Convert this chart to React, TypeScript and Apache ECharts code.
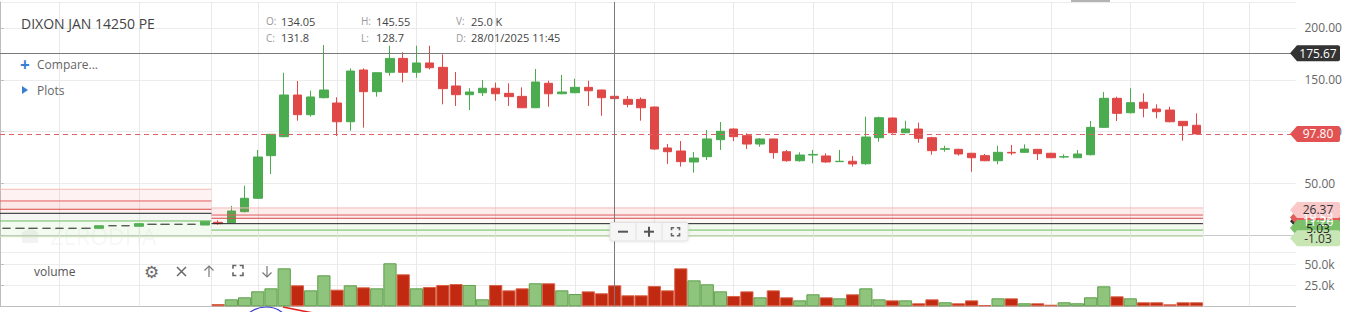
import React, { useEffect, useRef } from "react";
import * as echarts from "echarts";

// ---------------- data ----------------
const title = "DIXON JAN 14250 PE";
const prevDate = "27/01/2025";
const todayDate = "28/01/2025";
const nextDate = "29/01/2025";

// previous session (last 16 five-minute candles, 14:10 .. 15:25)
const prevOpen = [6.75, 6.75, 6.75, 6.75, 6.75, 6.75, 6.75, 6.75, 9.2, 9.2, 8.7, 10.6, 10.6, 10.6, 10.6, 9.9];
const prevHigh = [6.75, 6.75, 6.75, 6.75, 6.75, 6.75, 6.75, 9.2, 9.2, 9.2, 11.2, 10.6, 10.6, 10.6, 10.6, 13.5];
const prevLow = [6.75, 6.75, 6.75, 6.75, 6.75, 6.75, 6.75, 6.75, 9.2, 9.2, 8.7, 10.6, 10.6, 10.6, 10.6, 9.9];
const prevClose = [6.75, 6.75, 6.75, 6.75, 6.75, 6.75, 6.75, 9.2, 9.2, 9.2, 11.2, 10.6, 10.6, 10.6, 10.6, 13.5];

// current session (75 five-minute candles, 09:15 .. 15:25)
const todayOpen = [
  12.5, 12.2, 22.8, 35.7, 76.8, 95.1, 135.3, 116.3, 132.7, 127.6,
  109.5, 159.4, 138.5, 157.2, 170.6, 157.2, 166.2, 162.0, 144.0, 135.6,
  137.5, 141.8, 136.9, 134.0, 123.0, 146.6, 136.5, 137.5, 142.7, 140.1,
  134.05, 131.1, 131.1, 123.7, 84.2, 81.3, 70.7, 75.8, 92.2, 102.5,
  96.1, 88.0, 92.9, 80.6, 71.9, 77.4, 76.5, 71.0, 71.4, 69.0,
  94.1, 113.1, 98.9, 102.5, 94.1, 83.0, 82.9, 79.1, 76.8, 71.9,
  80.0, 80.0, 82.9, 79.1, 75.5, 74.8, 77.7, 104.1, 132.1, 118.2,
  128.3, 121.8, 120.8, 109.9, 106.1,
];
const todayHigh = [
  14.5, 28.3, 47.8, 82.3, 97.4, 156.8, 148.8, 139.4, 183.5, 133.1,
  161.0, 161.0, 157.0, 182.8, 176.5, 182.8, 182.8, 174.5, 157.5, 141.8,
  149.8, 147.2, 146.6, 142.7, 160.4, 149.1, 154.6, 151.0, 149.1, 140.5,
  145.55, 134.3, 133.0, 124.0, 88.0, 90.9, 80.3, 101.5, 109.3, 103.0,
  98.4, 93.8, 93.0, 82.3, 80.0, 82.3, 79.0, 82.3, 76.5, 114.4,
  114.4, 113.5, 110.5, 108.6, 95.0, 86.4, 83.5, 79.5, 78.4, 86.4,
  87.1, 87.7, 83.2, 79.5, 78.1, 82.3, 110.2, 138.2, 133.7, 141.8,
  136.9, 126.3, 124.0, 110.0, 117.6,
];
const todayLow = [
  10.2, 12.0, 22.0, 35.0, 59.1, 94.5, 110.5, 114.4, 132.0, 95.8,
  100.9, 103.8, 133.7, 153.9, 147.5, 152.0, 160.0, 126.3, 124.7, 120.8,
  134.3, 129.8, 124.7, 122.8, 122.8, 124.0, 136.0, 137.0, 124.7, 115.3,
  128.7, 123.4, 110.5, 82.5, 68.8, 66.2, 60.4, 72.6, 82.3, 90.9,
  83.2, 85.4, 73.9, 71.0, 71.0, 69.4, 70.0, 71.0, 66.2, 68.0,
  90.3, 98.0, 98.5, 89.3, 77.7, 80.6, 76.8, 61.3, 71.5, 68.5,
  77.4, 79.5, 72.6, 74.5, 74.3, 74.5, 77.0, 103.5, 110.2, 117.5,
  113.8, 112.8, 109.0, 91.2, 97.0,
];
const todayClose = [
  11.2, 23.4, 35.7, 75.5, 97.4, 135.3, 116.3, 133.4, 140.1, 109.5,
  158.4, 138.5, 156.8, 170.6, 157.2, 166.2, 161.6, 141.4, 135.6, 138.2,
  141.8, 136.5, 133.7, 123.0, 147.8, 136.5, 138.2, 142.7, 139.4, 132.7,
  131.8, 126.3, 123.0, 83.2, 80.6, 71.0, 74.5, 92.9, 100.3, 95.1,
  88.0, 92.9, 79.7, 71.9, 77.4, 78.0, 70.7, 71.4, 68.8, 94.8,
  113.4, 98.9, 102.5, 93.5, 81.6, 83.5, 78.4, 74.8, 71.9, 80.0,
  79.4, 83.2, 78.7, 74.8, 75.8, 78.4, 104.1, 132.1, 117.6, 127.9,
  122.5, 119.2, 109.5, 105.7, 97.8,
];
// volume in thousands
const todayVolume = [
  2.7, 8.3, 10.7, 17.8, 21.4, 45.2, 25.0, 19.0, 36.9, 19.8,
  25.0, 22.6, 21.4, 51.2, 38.1, 21.4, 23.0, 25.4, 26.5, 25.4,
  8.3, 25.4, 19.0, 21.4, 27.4, 27.4, 19.0, 14.6, 17.8, 15.5,
  25.0, 13.1, 13.1, 24.2, 19.0, 45.2, 30.9, 26.2, 17.8, 12.3,
  17.8, 10.7, 19.0, 10.7, 7.1, 14.3, 10.7, 9.5, 14.3, 21.4,
  8.3, 7.1, 7.1, 3.6, 8.3, 4.8, 3.6, 7.1, 1.5, 9.5,
  9.5, 3.6, 3.6, 1.9, 4.8, 3.6, 10.7, 23.8, 11.9, 9.5,
  4.8, 4.8, 2.4, 4.8, 4.8,
];

// level lines (previous and current session)
const prevLevels = [44.4, 33.1, 25.1, 21.2, 13.8, -1.4];
const todayLevels = [26.37, 19.52, 16.4, 11.2, 5.03, -1.03];
const levelColors = ["#f3b9b9", "#e25c5c", "#d84a4a", "#222222", "#6cbd5c", "#c6e3b3"];

const crossIndex = 30; // candle under crosshair (11:45)
const crossPrice = 175.67;
const nextSlots = 7;

// ---------------- helpers ----------------
const pad = (n: number) => (n < 10 ? "0" + n : "" + n);
function slots(date: string, h: number, m: number, n: number) {
  const out: string[] = [];
  for (let i = 0; i < n; i++) {
    const t = h * 60 + m + 5 * i;
    out.push(`${date} ${pad(Math.floor(t / 60))}:${pad(t % 60)}`);
  }
  return out;
}

const NPREV = prevOpen.length;
const NTODAY = todayOpen.length;
const categories = [
  ...slots(prevDate, 14, 10, NPREV),
  ...slots(todayDate, 9, 15, NTODAY),
  ...slots(nextDate, 9, 15, nextSlots),
];
const NCAT = categories.length;

const GREEN = "#4aab4f";
const RED = "#e04848";
const FONT = "Open Sans";

function buildOption() {
  const candleData = categories.map((_, g) => {
    if (g < NPREV) return [prevOpen[g], prevClose[g], prevLow[g], prevHigh[g]];
    const i = g - NPREV;
    if (i < NTODAY) return [todayOpen[i], todayClose[i], todayLow[i], todayHigh[i]];
    return "-";
  });
  const volData = categories.map((_, g) => {
    const i = g - NPREV;
    if (i < 0 || i >= NTODAY) return "-";
    const up = todayClose[i] >= todayOpen[i];
    return {
      value: todayVolume[i] * 1000,
      itemStyle: {
        color: up ? "#8ec47b" : "#c12a10",
        borderColor: up ? "#5f9f4c" : "#d9634a",
        borderWidth: 1,
      },
    };
  });

  // vertical grid: half hours (candle centres) and session boundaries
  const vGrid: number[] = [];
  categories.forEach((c, g) => {
    const [d, t] = c.split(" ");
    const mm = t.slice(3);
    if (g > 0 && categories[g - 1].split(" ")[0] !== d) vGrid.push(g);
    if (mm === "00" || mm === "30") vGrid.push(g + 0.5);
  });
  const vGridLines = {
    silent: true,
    symbol: ["none", "none"],
    z: 1,
    label: { show: false },
    lineStyle: { color: "#e9e9e9", width: 1, type: "solid" },
    data: vGrid.map((x) => ({ xAxis: x })),
  };

  const crossCat = categories[NPREV + crossIndex];
  const lastClose = todayClose[NTODAY - 1];

  const levelSeries: any[] = [];
  const addLevels = (vals: number[], x0: number, x1: number) => {
    vals.forEach((v, k) => {
      levelSeries.push({
        type: "line",
        xAxisIndex: 2,
        yAxisIndex: 0,
        data: [[x0, v], [x1, v]],
        symbol: "none",
        silent: true,
        z: 3,
        lineStyle: { color: levelColors[k], width: 1 },
      });
    });
  };
  addLevels(prevLevels, 0, NPREV);
  addLevels(todayLevels, NPREV, NPREV + NTODAY);

  const x0 = 0, x1 = NPREV, x2 = NPREV + NTODAY;
  levelSeries[0].markLine = vGridLines;
  levelSeries[0].markArea = {
    silent: true,
    z: 3,
    data: [
      [{ coord: [x0, prevLevels[0]], itemStyle: { color: "rgba(240,110,110,0.09)" } }, { coord: [x1, prevLevels[3]] }],
      [{ coord: [x0, prevLevels[1]], itemStyle: { color: "rgba(240,110,110,0.08)" } }, { coord: [x1, prevLevels[2]] }],
      [{ coord: [x0, prevLevels[3]], itemStyle: { color: "rgba(150,175,150,0.10)" } }, { coord: [x1, prevLevels[4]] }],
      [{ coord: [x0, prevLevels[4]], itemStyle: { color: "rgba(160,210,130,0.12)" } }, { coord: [x1, prevLevels[5]] }],
      [{ coord: [x1, todayLevels[0]], itemStyle: { color: "rgba(240,110,110,0.12)" } }, { coord: [x2, todayLevels[2]] }],
      [{ coord: [x1, todayLevels[2]], itemStyle: { color: "rgba(240,110,110,0.05)" } }, { coord: [x2, todayLevels[3]] }],
      [{ coord: [x1, todayLevels[3]], itemStyle: { color: "rgba(160,210,130,0.13)" } }, { coord: [x2, todayLevels[5]] }],
    ],
  };

  const tagPath = "path://M0,8L7,0L48,0Q50,0,50,2L50,14Q50,16,48,16L7,16Z";
  const tag = (v: number, dy: number, bg: string, fg: string) => ({
    coord: [NCAT, v],
    symbolOffset: [19.5, dy],
    itemStyle: { color: bg },
    label: { formatter: v.toFixed(2), color: fg },
  });

  const axisLabelStyle = { color: "#666", fontSize: 12, fontFamily: FONT, margin: 6 };

  const g = (o: any) => ({ z: 10, ...o });
  const txt = (x: number, y: number, text: string, fill: string, size: number, extra: any = {}) =>
    g({
      type: "text",
      x,
      y,
      style: { text, fill, fontSize: size, fontFamily: FONT, verticalAlign: "middle", align: "left", ...extra },
    });
  const corners = (cx: number, cy: number, s: number, color: string) => {
    const h = s / 2, k = s / 3;
    const pts = [
      [[cx - h, cy - h + k], [cx - h, cy - h], [cx - h + k, cy - h]],
      [[cx + h - k, cy - h], [cx + h, cy - h], [cx + h, cy - h + k]],
      [[cx + h, cy + h - k], [cx + h, cy + h], [cx + h - k, cy + h]],
      [[cx - h + k, cy + h], [cx - h, cy + h], [cx - h, cy + h - k]],
    ];
    return pts.map((p) => g({ type: "polyline", shape: { points: p }, style: { stroke: color, lineWidth: 1.6, fill: null } }));
  };

  const o = todayOpen[crossIndex], h = todayHigh[crossIndex], l = todayLow[crossIndex], c = todayClose[crossIndex];
  const v = todayVolume[crossIndex];
  const crossTime = crossCat.split(" ")[1];

  return {
    animation: false,
    textStyle: { fontFamily: FONT },
    grid: [
      { left: -1, width: 1296.5, top: 2, height: 250.7 },
      { left: -1, width: 1296.5, top: 252.7, height: 53.6 },
    ],
    xAxis: [
      {
        type: "category", gridIndex: 0, data: categories, boundaryGap: true,
        axisLine: { show: true, lineStyle: { color: "#c8c8c8" } },
        axisTick: { show: false }, axisLabel: { show: false }, splitLine: { show: false },
      },
      {
        type: "category", gridIndex: 1, data: categories, boundaryGap: true,
        axisLine: { show: true, lineStyle: { color: "#bdbdbd" } },
        axisTick: { show: false }, axisLabel: { show: false }, splitLine: { show: false },
      },
      { type: "value", gridIndex: 0, min: 0, max: NCAT, show: false },
      { type: "value", gridIndex: 1, min: 0, max: NCAT, show: false },
    ],
    yAxis: [
      {
        type: "value", gridIndex: 0, position: "right", min: -16.8, max: 225, offset: 3,
        axisLine: { show: true, lineStyle: { color: "#bdbdbd" } },
        axisTick: { show: true, length: 4, lineStyle: { color: "#bdbdbd" } },
        axisLabel: { ...axisLabelStyle, showMinLabel: false, showMaxLabel: false, formatter: (x: number) => x.toFixed(2) },
        splitLine: { show: true, lineStyle: { color: "#ececec" } },
      },
      {
        type: "value", gridIndex: 1, position: "right", min: 0, max: 63800, interval: 25000, offset: 3,
        axisLine: { show: true, lineStyle: { color: "#bdbdbd" } },
        axisTick: { show: true, length: 4, lineStyle: { color: "#bdbdbd" } },
        axisLabel: {
          ...axisLabelStyle, showMinLabel: false, showMaxLabel: false,
          formatter: (x: number) => (x / 1000).toFixed(1) + "k",
        },
        splitLine: { show: true, lineStyle: { color: "#ececec" } },
      },
    ],
    series: [
      {
        type: "candlestick",
        xAxisIndex: 0,
        yAxisIndex: 0,
        data: candleData,
        barWidth: 9,
        z: 2,
        itemStyle: {
          color: GREEN, color0: RED, borderColor: GREEN, borderColor0: RED,
          borderColorDoji: "#444", borderWidth: 1,
        },
        markLine: {
          silent: true,
          symbol: ["none", "none"],
          label: { show: false },
          data: [
            { yAxis: lastClose, lineStyle: { color: "#e06262", type: [5, 4], width: 1 } },
            { yAxis: crossPrice, lineStyle: { color: "#7a7a7a", type: "solid", width: 1 } },
            { xAxis: crossCat, lineStyle: { color: "#7a7a7a", type: "solid", width: 1 } },
          ],
        },
      },
      {
        type: "bar",
        xAxisIndex: 1,
        yAxisIndex: 1,
        data: volData,
        barCategoryGap: "0%",
        z: 2,
        markLine: {
          silent: true,
          symbol: ["none", "none"],
          label: { show: false },
          data: [{ xAxis: crossCat, lineStyle: { color: "#7a7a7a", type: "solid", width: 1 } }],
        },
      },
      ...levelSeries,
      {
        type: "line",
        xAxisIndex: 3,
        yAxisIndex: 1,
        data: [[0, 0], [NCAT, 0]],
        symbol: "none",
        silent: true,
        lineStyle: { opacity: 0 },
        markLine: vGridLines,
      },
      {
        type: "line",
        xAxisIndex: 2,
        yAxisIndex: 0,
        data: [[NCAT, lastClose]],
        symbol: "none",
        silent: true,
        clip: false,
        lineStyle: { opacity: 0 },
        markPoint: {
          silent: true,
          z: 8,
          symbol: tagPath,
          symbolSize: [50, 16],
          symbolKeepAspect: false,
          label: { show: true, position: "inside", offset: [3, 0], fontSize: 12, fontFamily: FONT },
          data: [
            tag(todayLevels[3], -2.5, "#333333", "#ffffff"),
            tag(todayLevels[1], 2.5, "#e35b5b", "#ffffff"),
            tag(todayLevels[4], -2, "#7cc06a", "#222222"),
            tag(todayLevels[0], 2, "#f9c9c9", "#333333"),
            tag(todayLevels[5], 2, "#c8e6b4", "#333333"),
            tag(lastClose, 0, "#e25252", "#ffffff"),
            tag(crossPrice, 0, "#333333", "#ffffff"),
          ],
        },
      },
    ],
    graphic: [
      // watermark
      { type: "polygon", z: 0, shape: { points: [[22, 243], [22, 232], [30, 228], [38, 232], [38, 243]] }, style: { fill: "rgba(0,0,0,0.05)" } },
      { type: "text", z: 0, x: 50, y: 236, style: { text: "ZERODHA", fill: "rgba(0,0,0,0.05)", fontSize: 23, fontFamily: FONT, verticalAlign: "middle" } },
      // top scroll indicator
      g({ type: "rect", shape: { x: 1071, y: 0, width: 39, height: 2 }, style: { fill: "#b4b4b4" } }),
      // title and menu
      txt(21, 23, title, "#444", 14),
      txt(20, 64, "+", "#387ed1", 17, { fontWeight: "bold" }),
      txt(37, 64, "Compare...", "#666", 12),
      g({ type: "polygon", shape: { points: [[22, 86], [28, 90], [22, 94]] }, style: { fill: "#387ed1" } }),
      txt(37, 90, "Plots", "#666", 12),
      // OHLC readout
      txt(266, 21, "O:", "#999", 10),
      txt(281, 21, o.toString(), "#444", 11),
      txt(266, 37.5, "C:", "#999", 10),
      txt(281, 37.5, c.toString(), "#444", 11),
      txt(361, 21, "H:", "#999", 10),
      txt(376, 21, h.toString(), "#444", 11),
      txt(361, 37.5, "L:", "#999", 10),
      txt(376, 37.5, l.toString(), "#444", 11),
      txt(456, 21, "V:", "#999", 10),
      txt(471, 21, v.toFixed(1) + " K", "#444", 11),
      txt(456, 37.5, "D:", "#999", 10),
      txt(471, 37.5, `${todayDate} ${crossTime}`, "#444", 11),
      // zoom control
      g({
        type: "rect",
        shape: { x: 610, y: 222.5, width: 78, height: 18.5, r: 2 },
        style: { fill: "#f6f6f6", stroke: "#e2e2e2", lineWidth: 1, shadowBlur: 3, shadowColor: "rgba(0,0,0,0.12)" },
      }),
      g({ type: "line", shape: { x1: 636, y1: 223, x2: 636, y2: 240.5 }, style: { stroke: "#e2e2e2" } }),
      g({ type: "line", shape: { x1: 662, y1: 223, x2: 662, y2: 240.5 }, style: { stroke: "#e2e2e2" } }),
      g({ type: "line", shape: { x1: 618, y1: 231.7, x2: 628, y2: 231.7 }, style: { stroke: "#555", lineWidth: 2 } }),
      g({ type: "line", shape: { x1: 644, y1: 231.7, x2: 654, y2: 231.7 }, style: { stroke: "#555", lineWidth: 2 } }),
      g({ type: "line", shape: { x1: 649, y1: 226.7, x2: 649, y2: 236.7 }, style: { stroke: "#555", lineWidth: 2 } }),
      ...corners(675.5, 231.7, 8, "#666"),
      // volume legend
      txt(34, 271.5, "volume", "#555", 12),
      txt(144, 271.5, "\u2699", "#6a6a6a", 17),
      g({ type: "line", shape: { x1: 177, y1: 267, x2: 186, y2: 276 }, style: { stroke: "#666", lineWidth: 1.5 } }),
      g({ type: "line", shape: { x1: 186, y1: 267, x2: 177, y2: 276 }, style: { stroke: "#666", lineWidth: 1.5 } }),
      g({ type: "polyline", shape: { points: [[204.5, 270.5], [209, 266], [213.5, 270.5]] }, style: { stroke: "#777", lineWidth: 1.2, fill: null } }),
      g({ type: "line", shape: { x1: 209, y1: 266, x2: 209, y2: 277 }, style: { stroke: "#777", lineWidth: 1.2 } }),
      ...corners(238, 270.5, 10, "#666"),
      g({ type: "polyline", shape: { points: [[262.5, 272.5], [267, 277], [271.5, 272.5]] }, style: { stroke: "#777", lineWidth: 1.2, fill: null } }),
      g({ type: "line", shape: { x1: 267, y1: 266, x2: 267, y2: 277 }, style: { stroke: "#777", lineWidth: 1.2 } }),
      // hand-drawn annotation at the bottom edge
      g({ type: "ellipse", shape: { cx: 266, cy: 324, rx: 22, ry: 17 }, style: { stroke: "#3a3ad0", lineWidth: 1.2, fill: null } }),
      g({ type: "line", shape: { x1: 283, y1: 307, x2: 313, y2: 313 }, style: { stroke: "#e02424", lineWidth: 1.6 } }),
    ],
  };
}

export default function App() {
  const ref = useRef<HTMLDivElement>(null);
  useEffect(() => {
    if (!ref.current) return;
    const chart = echarts.init(ref.current, null, { renderer: "svg" });
    chart.setOption(buildOption() as any);
    return () => chart.dispose();
  }, []);
  return (
    <div
      ref={ref}
      style={{ position: "fixed", left: 0, top: 0, width: 1346, height: 312, background: "#ffffff" }}
    />
  );
}
